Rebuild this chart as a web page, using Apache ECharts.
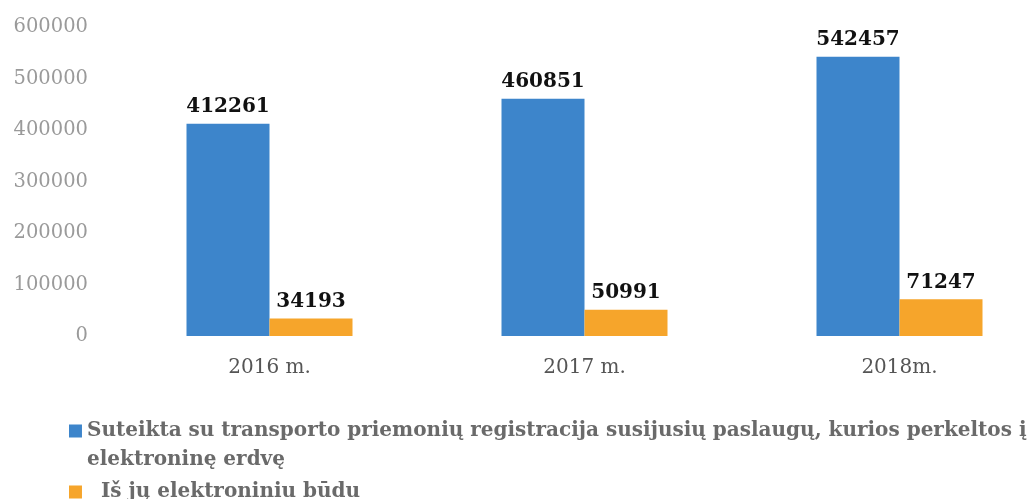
<!DOCTYPE html>
<html><head><meta charset="utf-8">
<script src="https://cdn.jsdelivr.net/npm/echarts@6/dist/echarts.min.js"></script>
<style>html,body{margin:0;padding:0;background:#fff}#c{width:1030px;height:499px}</style>
</head><body><div id="c"></div>
<script>
const categories = ['2016 m.', '2017 m.', '2018m.'];
const seriesNames = ['Suteikta su transporto priemonių registracija susijusių paslaugų, kurios perkeltos į\nelektroninę erdvę', '  Iš jų elektroniniu būdu'];
const totalValues = [412261, 460851, 542457];
const electronicValues = [34193, 50991, 71247];
const yTicks = [0, 100000, 200000, 300000, 400000, 500000, 600000];

const chart = echarts.init(document.getElementById('c'));
const labelStyle = {show: true, position: 'top', distance: 7, fontFamily: 'DejaVu Serif', fontWeight: 'bold', fontSize: 20, color: '#111'};
chart.setOption({
  animation: false,
  grid: {left: 112, width: 945, top: 27, bottom: 163, containLabel: false, outerBoundsMode: 'none'},
  legend: {
    orient: 'vertical', left: 69, top: 416, height: 120, padding: 0, itemWidth: 13, itemHeight: 42, itemGap: -4,
    textStyle: {fontFamily: 'DejaVu Serif', fontWeight: 'bold', fontSize: 20, color: '#6a6a6a', lineHeight: 29.5},
    data: [
      {name: seriesNames[0], icon: 'path://M0,0h13v13h-13z M0,42h0.1v0.1h-0.1z'},
      {name: seriesNames[1], icon: 'path://M0,14.5h13v13h-13z M0,0h0.1v0.1h-0.1z M0,42h0.1v0.1h-0.1z'}
    ]
  },
  xAxis: {
    type: 'category', data: categories,
    axisLine: {show: false}, axisTick: {show: false},
    axisLabel: {fontFamily: 'DejaVu Serif', fontSize: 20, color: '#555', margin: 22}
  },
  yAxis: {
    type: 'value', min: yTicks[0], max: yTicks[yTicks.length - 1], interval: 100000,
    splitLine: {show: false}, axisLine: {show: false}, axisTick: {show: false},
    axisLabel: {fontFamily: 'DejaVu Serif', fontSize: 19.5, color: '#9a9a9a', margin: 24, formatter: v => String(v)}
  },
  series: [
    {name: seriesNames[0], type: 'bar', data: totalValues, barWidth: 83, barGap: '0%', itemStyle: {color: '#3d85cb'}, label: labelStyle},
    {name: seriesNames[1], type: 'bar', data: electronicValues, barWidth: 83, itemStyle: {color: '#f6a52b'}, label: labelStyle}
  ]
});
</script></body></html>
